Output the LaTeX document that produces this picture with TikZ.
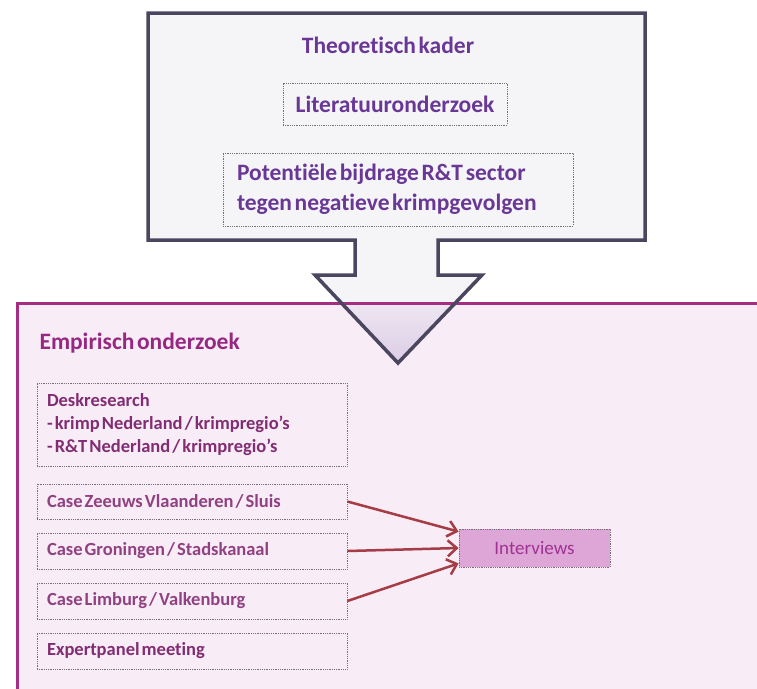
\documentclass[tikz,border=0pt]{standalone}
\usepackage{fontspec}
\setmainfont{Carlito}[Ligatures=NoCommon, WordSpace=0.5]
\usetikzlibrary{arrows.meta}

\begin{document}
\begin{tikzpicture}[x=1pt, y=-1pt, font=\fontsize{18}{23}\selectfont]

  % Colors
  \definecolor{theofill}{RGB}{245,245,248}
  \definecolor{theodraw}{RGB}{75,70,95}
  \definecolor{theotext}{RGB}{105,55,150}
  \definecolor{empfill}{RGB}{248,236,246}
  \definecolor{empdraw}{RGB}{165,45,130}
  \definecolor{emptext}{RGB}{150,40,130}
  \definecolor{boxtext}{RGB}{130,45,115}
  \definecolor{casetext}{RGB}{145,65,130}
  \definecolor{dotgray}{RGB}{120,110,120}
  \definecolor{intfill}{RGB}{222,165,215}
  \definecolor{inttext}{RGB}{160,50,145}
  \definecolor{arrowred}{RGB}{165,60,70}

  % Styles
  \tikzset{
    box/.style={
      rectangle, draw=dotgray, densely dotted, line width=0.8pt,
      fill=#1, inner sep=0pt,
    },
    theobox/.style={
      box=theofill, text=theotext, font=\fontsize{23.5}{30}\selectfont\bfseries,
    },
    empbox/.style={
      box=empfill, text=casetext, font=\fontsize{18.5}{23}\selectfont\bfseries,
      minimum width=310pt, text width=290pt, align=flush left, inner xsep=10pt,
    },
    arrow/.style={
      arrowred, line width=2.5pt, -{Straight Barb[length=9pt, width=16pt]},
    }
  }

  \useasboundingbox (0,0) rectangle (757,688);

  % Empirisch onderzoek background
  \fill[empfill] (17,303) rectangle (790,720);

  % Theoretisch kader box with block arrow
  \fill[theofill] (148,13) -- (645,13) -- (645,240) -- (438,240) -- (438,275) -- (482,275)
    -- (398,363) -- (315,275) -- (355,275) -- (355,240) -- (148,240) -- cycle;
  \begin{scope}
    \clip (0,303) rectangle (757,688);
    \shade[top color=theofill!60!empfill, bottom color={rgb,255:red,220;green,205;blue,230}]
      (315,275) -- (482,275) -- (398,363) -- cycle;
  \end{scope}
  \draw[empdraw, line width=3pt] (17,303) rectangle (790,720);
  \draw[theodraw, line width=3.5pt, line join=miter] (148,13) -- (645,13) -- (645,240) -- (438,240)
    -- (438,275) -- (482,275) -- (398,363) -- (315,275) -- (355,275) -- (355,240) -- (148,240) -- cycle;

  % Theoretisch kader contents
  \node[text=theotext, font=\fontsize{23.5}{26}\selectfont\bfseries] (theo) at (388,45) {Theoretisch kader};
  \node[theobox, minimum width=224pt, minimum height=42pt] (lit) at (395,104) {Literatuuronderzoek};
  \node[theobox, minimum width=350pt, minimum height=73pt, text width=322pt, align=flush left, inner xsep=14pt] (pot) at (398,189.5)
    {Potentiële bijdrage R\&T sector\\tegen negatieve krimpgevolgen};

  % Empirisch onderzoek contents
  \node[anchor=west, text=emptext, font=\fontsize{23.5}{26}\selectfont\bfseries] (emp) at (36,343) {Empirisch onderzoek};
  \node[empbox, text=boxtext, minimum height=83pt] (desk) at (192,424.5)
    {Deskresearch\\- krimp Nederland / krimpregio’s\\- R\&T Nederland / krimpregio’s};
  \node[empbox, minimum height=35pt] (zeeuws) at (192,501.5) {Case Zeeuws Vlaanderen / Sluis};
  \node[empbox, minimum height=36pt] (groningen) at (192,551) {Case Groningen / Stadskanaal};
  \node[empbox, minimum height=36pt] (limburg) at (192,601) {Case Limburg / Valkenburg};
  \node[empbox, text=boxtext, minimum height=36pt] (expert) at (192,651) {Expertpanel meeting};

  \node[box=intfill, text=inttext, font=\fontsize{19}{23}\selectfont, minimum width=151pt, minimum height=38pt] (interviews) at (534.5,548) {Interviews};

  % Arrows from cases to interviews
  \draw[arrow] (zeeuws.east) -- ([yshift=-3pt]interviews.north west);
  \draw[arrow] (groningen.east) -- (interviews.west);
  \draw[arrow] (limburg.east) -- ([yshift=4pt]interviews.south west);

\end{tikzpicture}
\end{document}
